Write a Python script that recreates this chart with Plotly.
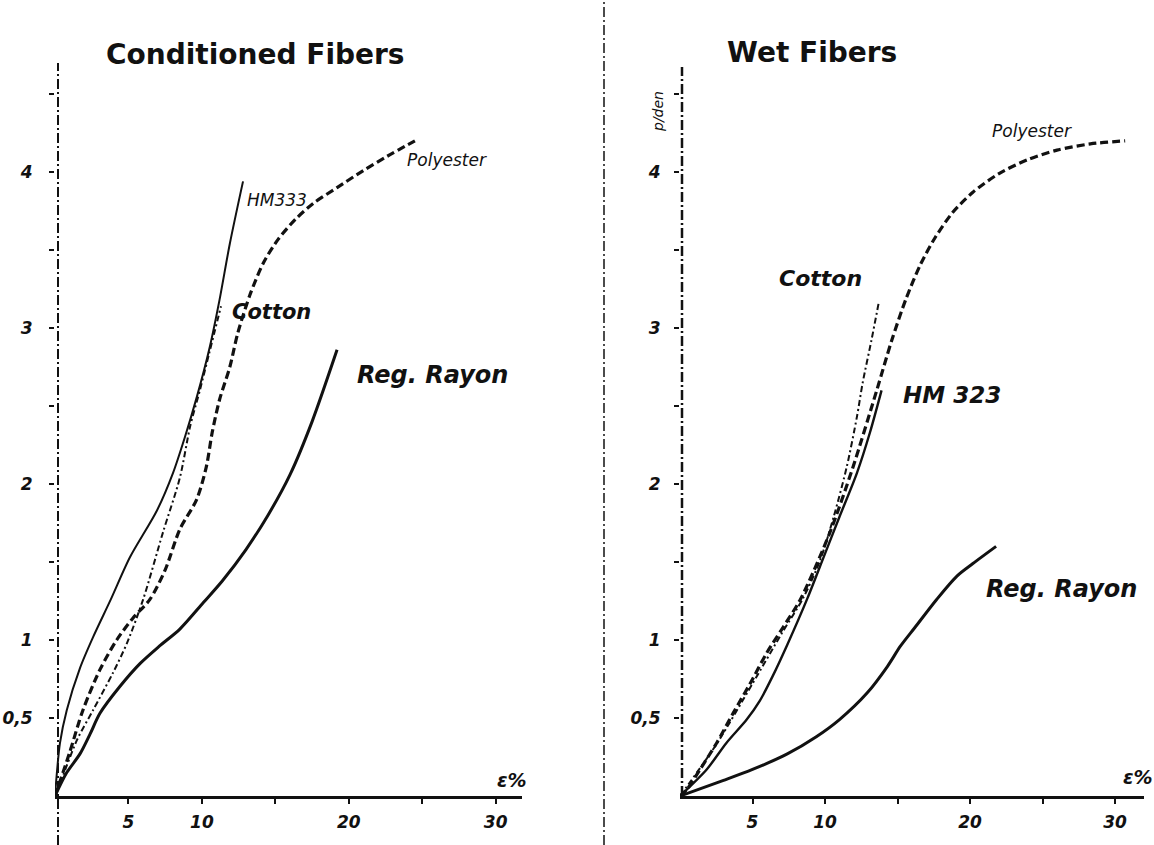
import plotly.graph_objects as go

# ---------------- data ----------------
# Conditioned fibers (left panel): x = strain e %, y = stress p/den
hm333_cond_x = [0, 0.34, 0.8, 1.7, 2.6, 3.8, 5.1, 6.94, 8.03, 8.84, 9.66, 10.54, 11.2, 11.9, 12.8]
hm333_cond_y = [0, 0.34, 0.55, 0.82, 1.02, 1.26, 1.53, 1.83, 2.07, 2.30, 2.56, 2.88, 3.18, 3.54, 3.94]

cotton_cond_x = [0, 0.5, 1.5, 2.59, 3.95, 4.9, 6.0, 7.35, 8.5, 9.2, 9.86, 10.5, 11.3]
cotton_cond_y = [0, 0.12, 0.36, 0.55, 0.79, 0.98, 1.26, 1.69, 2.04, 2.37, 2.60, 2.84, 3.14]

poly_cond_x = [0, 1.0, 1.9, 3.06, 4.2, 5.3, 6.46, 7.5, 8.5, 9.64, 10.3, 10.7, 11.2,
               11.9, 12.45, 13.3, 14.2, 15.2, 16.4, 17.6, 19.2, 21.0, 22.6, 24.5]
poly_cond_y = [0, 0.28, 0.55, 0.81, 1.0, 1.14, 1.26, 1.45, 1.71, 1.90, 2.11, 2.33, 2.54,
               2.75, 2.97, 3.22, 3.42, 3.57, 3.70, 3.80, 3.90, 4.01, 4.10, 4.20]

rayon_cond_x = [0, 0.8, 1.7, 2.4, 3.06, 4.4, 5.8, 7.1, 8.5, 10.1, 11.4, 13.0, 14.5, 16.0, 17.5, 19.2]
rayon_cond_y = [0, 0.15, 0.27, 0.40, 0.53, 0.70, 0.85, 0.96, 1.07, 1.24, 1.38, 1.58, 1.80, 2.06, 2.40, 2.86]

# Wet fibers (right panel)
poly_wet_x = [0, 0.46, 1.38, 2.53, 3.66, 4.83, 6.0, 7.1, 8.3, 10.3, 11.9, 13.6, 14.6,
              15.6, 16.6, 17.6, 18.8, 20.2, 22.0, 24.0, 26.0, 28.3, 30.7]
poly_wet_y = [0, 0.04, 0.17, 0.34, 0.53, 0.72, 0.92, 1.08, 1.26, 1.68, 2.10, 2.61, 2.92,
              3.19, 3.41, 3.58, 3.74, 3.87, 3.99, 4.08, 4.14, 4.18, 4.20]

cotton_wet_x = [0, 2.5, 5.0, 7.0, 8.5, 9.66, 10.6, 11.5, 12.2, 12.6, 13.2, 13.7]
cotton_wet_y = [0, 0.33, 0.72, 1.04, 1.27, 1.51, 1.79, 2.11, 2.43, 2.65, 2.92, 3.16]

hm323_wet_x = [0, 1.84, 3.2, 4.6, 5.5, 6.4, 7.4, 8.8, 9.9, 11.0, 12.2, 13.1, 13.9]
hm323_wet_y = [0, 0.17, 0.34, 0.49, 0.61, 0.77, 0.97, 1.27, 1.53, 1.79, 2.07, 2.33, 2.60]

rayon_wet_x = [0, 3.0, 5.0, 7.4, 9.4, 11.0, 12.9, 14.3, 15.2, 16.2, 17.7, 19.1, 20.2, 21.8]
rayon_wet_y = [0, 0.10, 0.17, 0.27, 0.38, 0.49, 0.66, 0.83, 0.96, 1.08, 1.26, 1.41, 1.49, 1.60]

x_tick_vals = [5, 10, 15, 20, 25, 30]
x_tick_text = ["5", "10", "", "20", "", "30"]
y_tick_vals = [0.5, 1, 1.5, 2, 2.5, 3, 3.5, 4, 4.5]
y_tick_text = ["0,5", "1", "", "2", "", "3", "", "4", ""]

# ---------------- figure ----------------
W, H = 1154, 845
INK = "#111111"

def px_x(p):
    return p / W

def px_y(p):
    return 1 - p / H

fig = go.Figure()

def add_curve(x, y, xa, ya, width, dash):
    fig.add_trace(go.Scatter(
        x=x, y=y, xaxis=xa, yaxis=ya, mode="lines",
        line=dict(color=INK, width=width, dash=dash, shape="spline", smoothing=0.8),
        hoverinfo="skip", showlegend=False))

# left panel
add_curve(hm333_cond_x, hm333_cond_y, "x", "y", 2.0, "solid")
add_curve(cotton_cond_x, cotton_cond_y, "x", "y", 2.0, "6px,3px,2px,3px")
add_curve(poly_cond_x, poly_cond_y, "x", "y", 3.2, "8px,4px")
add_curve(rayon_cond_x, rayon_cond_y, "x", "y", 3.0, "solid")
# right panel
add_curve(cotton_wet_x, cotton_wet_y, "x2", "y2", 2.0, "6px,3px,2px,3px")
add_curve(poly_wet_x, poly_wet_y, "x2", "y2", 3.2, "8px,4px")
add_curve(hm323_wet_x, hm323_wet_y, "x2", "y2", 2.4, "solid")
add_curve(rayon_wet_x, rayon_wet_y, "x2", "y2", 3.0, "solid")

tick_font = dict(family="DejaVu Sans", size=17, color=INK, weight="bold", style="italic")

def xaxis_cfg(domain, rng):
    return dict(domain=domain, range=rng, showgrid=False, zeroline=False,
                showline=True, linewidth=3, linecolor=INK, mirror=False,
                ticks="outside", ticklen=5, tickwidth=2, tickcolor=INK,
                tickvals=x_tick_vals, ticktext=x_tick_text, tickfont=tick_font,
                ticklabelstandoff=4, fixedrange=True)

def yaxis_cfg(domain, rng, standoff):
    return dict(domain=domain, range=rng, showgrid=False, zeroline=False,
                showline=False, ticks="outside", ticklen=5, tickwidth=2, tickcolor=INK,
                tickvals=y_tick_vals, ticktext=y_tick_text, tickfont=tick_font,
                ticklabelstandoff=standoff, fixedrange=True)

# pixel geometry of the two panels
L_X0, L_X1, L_Y0, L_Y1 = 55, 522, 796, 63
R_X0, R_X1, R_Y0, R_Y1 = 680, 1144, 796, 67
PX_PER_X_L, PX_PER_X_R, PX_PER_Y = 14.69, 14.5, 156.0

fig.update_layout(
    width=W, height=H, margin=dict(l=0, r=0, t=0, b=0),
    paper_bgcolor="white", plot_bgcolor="white", showlegend=False,
    xaxis=xaxis_cfg([px_x(L_X0), px_x(L_X1)], [0, (L_X1 - L_X0) / PX_PER_X_L]),
    yaxis=yaxis_cfg([px_y(L_Y0), px_y(L_Y1)], [0, (L_Y0 - L_Y1) / PX_PER_Y], 13),
    xaxis2=dict(xaxis_cfg([px_x(R_X0), px_x(R_X1)], [0, (R_X1 - R_X0) / PX_PER_X_R]), anchor="y2"),
    yaxis2=dict(yaxis_cfg([px_y(R_Y0), px_y(R_Y1)], [0, (R_Y0 - R_Y1) / PX_PER_Y], 10), anchor="x2"),
)

# dash-dot vertical axis lines and separator
shapes = [
    dict(type="line", xref="paper", yref="paper", x0=px_x(L_X0 + 3), x1=px_x(L_X0 + 3),
         y0=0, y1=px_y(L_Y1), line=dict(color=INK, width=2, dash="10px,3px,2px,3px")),
    dict(type="line", xref="paper", yref="paper", x0=px_x(R_X0 + 2), x1=px_x(R_X0 + 2),
         y0=px_y(R_Y0), y1=px_y(R_Y1), line=dict(color=INK, width=2.5, dash="10px,3px,2px,3px")),
    dict(type="line", xref="paper", yref="paper", x0=px_x(604), x1=px_x(604),
         y0=0, y1=1, line=dict(color=INK, width=1.5, dash="10px,3px,2px,3px")),
]
fig.update_layout(shapes=shapes)

def lab(text, x, y, xref, yref, size, weight="normal", style="italic", angle=0, xanchor="center"):
    return dict(text=text, x=x, y=y, xref=xref, yref=yref, showarrow=False,
                xanchor=xanchor, yanchor="middle", textangle=angle,
                font=dict(family="DejaVu Sans", size=size, color=INK, weight=weight, style=style))

annotations = [
    lab("Conditioned Fibers", px_x(255), px_y(54), "paper", "paper", 28, "bold", "normal"),
    lab("Wet Fibers", px_x(812), px_y(53), "paper", "paper", 28, "bold", "normal"),
    # left panel curve labels
    lab("HM333", 15.1, 3.82, "x", "y", 17),
    lab("Polyester", 26.7, 4.08, "x", "y", 17),
    lab("Cotton", 14.76, 3.10, "x", "y", 21, "bold"),
    lab("Reg. Rayon", 25.7, 2.70, "x", "y", 24, "bold"),
    lab("ε%", 31.1, 0.10, "x", "y", 19, "bold"),
    # right panel curve labels
    lab("Cotton", 9.66, 3.32, "x2", "y2", 22, "bold"),
    lab("HM 323", 18.76, 2.57, "x2", "y2", 23, "bold"),
    lab("Polyester", 24.3, 4.26, "x2", "y2", 17),
    lab("Reg. Rayon", 26.3, 1.33, "x2", "y2", 24, "bold"),
    lab("ε%", 30.4, 0.12, "x2", "y2", 19, "bold", xanchor="left"),
    lab("p/den", px_x(658), px_y(112), "paper", "paper", 14, angle=-90),
]
fig.update_layout(annotations=annotations)

fig.write_html("out.html")
